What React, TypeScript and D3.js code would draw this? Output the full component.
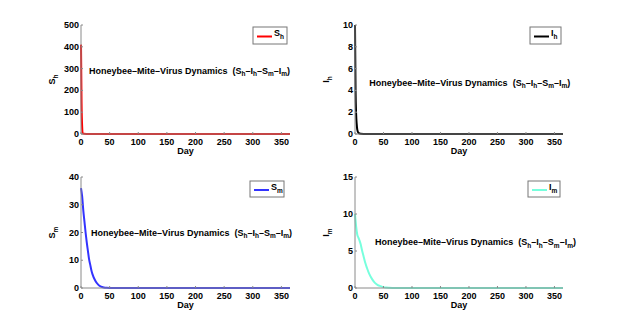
import React, { useRef, useEffect } from 'react';
import * as d3 from 'd3';

// readings
const shDays = [0, 1, 2, 3, 5, 10, 20, 365];
const shVals = [410, 140, 35, 4, 1, 0.5, 0.2, 0];

const ihDays = [0, 1, 2, 3, 4, 6, 10, 20, 365];
const ihVals = [10, 4, 1.8, 0.9, 0.4, 0.1, 0.02, 0, 0];

const smDays = [0, 2, 4, 6, 8, 10, 12, 14, 16, 18, 20, 25, 30, 35, 40, 45, 50, 60, 365];
const smVals = [36, 33, 28, 24, 20, 16.5, 13.5, 10.5, 8.5, 6.5, 5, 2.6, 1.2, 0.5, 0.2, 0.08, 0.03, 0, 0];

const imDays = [0, 2, 4, 6, 8, 10, 12, 15, 18, 21, 25, 30, 35, 40, 45, 50, 55, 60, 70, 365];
const imVals = [10, 8.3, 7.2, 6.8, 6.4, 5.9, 5.2, 4.3, 3.4, 2.7, 1.9, 1.2, 0.7, 0.4, 0.25, 0.12, 0.06, 0.03, 0, 0];

const xTicks = [0, 50, 100, 150, 200, 250, 300, 350];

const panels = [
  { name: 'S', sub: 'h', days: shDays, vals: shVals, color: '#ff0000', yMax: 500, yTicks: [0, 100, 200, 300, 400, 500],
    box: { l: 81, r: 290, t: 25, b: 134 }, titleAt: [14, 290], legend: { x: 253, y: 27, w: 34, h: 17 } },
  { name: 'I', sub: 'h', days: ihDays, vals: ihVals, color: '#000000', yMax: 10, yTicks: [0, 2, 4, 6, 8, 10],
    box: { l: 355, r: 563, t: 25, b: 134 }, titleAt: [25, 4.7], legend: { x: 530, y: 27, w: 31, h: 17 } },
  { name: 'S', sub: 'm', days: smDays, vals: smVals, color: '#3333ff', yMax: 40, yTicks: [0, 10, 20, 30, 40],
    box: { l: 81, r: 290, t: 177, b: 288 }, titleAt: [17.5, 20], legend: { x: 250, y: 181, w: 34, h: 16 } },
  { name: 'I', sub: 'm', days: imDays, vals: imVals, color: '#77ffdd', yMax: 15, yTicks: [0, 5, 10, 15],
    box: { l: 355, r: 563, t: 177, b: 288 }, titleAt: [35, 6.2], legend: { x: 528, y: 181, w: 32, h: 16 } },
];

const font = '"Liberation Sans", Arial, sans-serif';
const fs = 9;
const subFs = 6.5;

function subText(sel, parts, size, subSize) {
  // parts: array of [text, isSub]
  parts.forEach(([t, isSub], i) => {
    const prevSub = i > 0 && parts[i - 1][1];
    let dy = 0;
    if (isSub && !prevSub) dy = 2.5;
    if (!isSub && prevSub) dy = -2.5;
    sel.append('tspan')
      .attr('dy', dy)
      .style('font-size', (isSub ? subSize : size) + 'px')
      .style('white-space', 'pre')
      .text(t);
  });
}

function App() {
  const svgRef = useRef();

  useEffect(() => {
    const svg = d3.select(svgRef.current);
    svg.selectAll('*').remove();

    svg.append('rect').attr('width', 622).attr('height', 324).attr('fill', 'white');

    panels.forEach(p => {
      const { l, r, t, b } = p.box;
      const x = d3.scaleLinear().domain([0, 365]).range([l, r]);
      const y = d3.scaleLinear().domain([0, p.yMax]).range([b, t]);
      const g = svg.append('g').style('font-family', font).style('font-weight', 'bold');

      // data line
      const line = d3.line()
        .x((d, i) => x(p.days[i]))
        .y(d => y(d))
        .curve(d3.curveMonotoneX);
      g.append('path')
        .datum(p.vals)
        .attr('d', line)
        .attr('fill', 'none')
        .attr('stroke', p.color)
        .attr('stroke-width', 2);

      // axes
      g.append('line').attr('x1', l).attr('x2', l).attr('y1', t).attr('y2', b)
        .attr('stroke', '#8a8a8a').attr('stroke-width', 1);
      g.append('line').attr('x1', l).attr('x2', r).attr('y1', b).attr('y2', b)
        .attr('stroke', '#8a8a8a').attr('stroke-width', 1);

      xTicks.forEach(v => {
        g.append('line').attr('x1', x(v)).attr('x2', x(v)).attr('y1', b).attr('y2', b - 2)
          .attr('stroke', '#8a8a8a');
        g.append('text')
          .attr('x', x(v)).attr('y', b + 11)
          .attr('text-anchor', 'middle')
          .style('font-size', fs + 'px')
          .text(v);
      });
      p.yTicks.forEach(v => {
        g.append('line').attr('x1', l).attr('x2', l + 2).attr('y1', y(v)).attr('y2', y(v))
          .attr('stroke', '#8a8a8a');
        g.append('text')
          .attr('x', l - 2).attr('y', y(v) + 3)
          .attr('text-anchor', 'end')
          .style('font-size', fs + 'px')
          .text(v);
      });

      // axis labels
      g.append('text')
        .attr('x', (l + r) / 2).attr('y', b + 20)
        .attr('text-anchor', 'middle')
        .style('font-size', fs + 'px')
        .text('Day');

      const yl = g.append('text')
        .attr('transform', `translate(${l - 26},${(t + b) / 2}) rotate(-90)`)
        .attr('text-anchor', 'middle');
      subText(yl, [[p.name, false], [p.sub, true]], fs, subFs);

      // title inside the axes
      const tt = g.append('text')
        .attr('x', x(p.titleAt[0])).attr('y', y(p.titleAt[1]) + 3);
      subText(tt, [
        ['Honeybee\u2013Mite\u2013Virus Dynamics  (S', false], ['h', true],
        ['\u2013I', false], ['h', true],
        ['\u2013S', false], ['m', true],
        ['\u2013I', false], ['m', true],
        [')', false],
      ], fs, subFs);

      // legend
      const lg = p.legend;
      g.append('rect')
        .attr('x', lg.x).attr('y', lg.y).attr('width', lg.w).attr('height', lg.h)
        .attr('fill', 'white').attr('stroke', '#777').attr('stroke-width', 1);
      g.append('line')
        .attr('x1', lg.x + 4).attr('x2', lg.x + 19)
        .attr('y1', lg.y + lg.h / 2 + 1).attr('y2', lg.y + lg.h / 2 + 1)
        .attr('stroke', p.color).attr('stroke-width', 2);
      const lt = g.append('text').attr('x', lg.x + 21).attr('y', lg.y + 9);
      subText(lt, [[p.name, false], [p.sub, true]], fs, subFs);
    });
  }, []);

  return (
    <svg
      ref={svgRef}
      width={622}
      height={324}
      style={{ position: 'absolute', left: 0, top: 0 }}
    />
  );
}

export default App;
